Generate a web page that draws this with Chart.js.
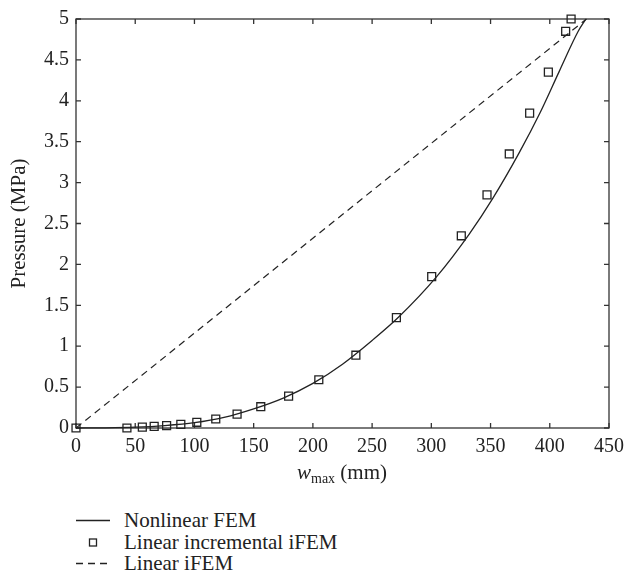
<!DOCTYPE html>
<html><head><meta charset="utf-8">
<script src="https://cdn.jsdelivr.net/npm/chart.js@4/dist/chart.umd.min.js"></script>
<style>
body{margin:0;background:#fff;width:638px;height:576px;overflow:hidden;font-family:"Liberation Serif",serif;color:#222;position:relative}
#wrap{position:absolute;left:0;top:0;width:638px;height:490px}
.xt{position:absolute;top:460px;left:0;width:684px;text-align:center;font-size:21px;line-height:24px}
.xt sub{font-size:14px;vertical-align:-4px;line-height:0}
.lg{position:absolute;left:76px;font-size:21px;line-height:22px;height:22px}
.lg svg{position:absolute;left:0;top:0}
.lg span{position:absolute;left:48px;top:0;white-space:nowrap}
</style></head>
<body>
<div id="wrap"><canvas id="c" width="638" height="490"></canvas></div>
<div class="xt"><i>w</i><sub>max</sub> (mm)</div>
<div class="lg" style="top:509px"><svg width="40" height="22"><line x1="0" y1="11.5" x2="34" y2="11.5" stroke="#222" stroke-width="1.3"/></svg><span>Nonlinear FEM</span></div>
<div class="lg" style="top:531px"><svg width="40" height="22"><rect x="13.5" y="8" width="7" height="7" fill="none" stroke="#222" stroke-width="1.3"/></svg><span>Linear incremental iFEM</span></div>
<div class="lg" style="top:552px"><svg width="40" height="22"><line x1="0" y1="11.5" x2="34" y2="11.5" stroke="#222" stroke-width="1.3" stroke-dasharray="7,5"/></svg><span>Linear iFEM</span></div>
<script>
// Nonlinear FEM
const femX = [0, 25, 50, 75, 100, 125, 150, 175, 200, 225, 250, 272, 304.5, 332, 352, 374, 392, 408, 424, 430.5];
const femY = [0, 0.002, 0.01, 0.03, 0.065, 0.13, 0.234, 0.366, 0.545, 0.78, 1.07, 1.35, 1.85, 2.37, 2.81, 3.36, 3.86, 4.36, 4.85, 5.0];
// Linear incremental iFEM
const incX = [0, 43, 56, 66, 76.5, 88.5, 102, 118, 136, 156, 179.5, 205, 236.3, 270.5, 300.3, 325.3, 347, 365.8, 383, 398.8, 413.4, 418];
const incY = [0, 0, 0.01, 0.02, 0.03, 0.045, 0.07, 0.11, 0.17, 0.26, 0.39, 0.59, 0.89, 1.35, 1.85, 2.35, 2.85, 3.35, 3.85, 4.35, 4.85, 5.0];
// Linear iFEM
const linX = [0, 431];
const linY = [0, 5];
const xTicks = [0, 50, 100, 150, 200, 250, 300, 350, 400, 450];
const yTicks = [0, 0.5, 1, 1.5, 2, 2.5, 3, 3.5, 4, 4.5, 5];

const pts = (xs, ys) => xs.map((v, i) => ({x: v, y: ys[i]}));
const INK = '#222';
const FONT = {family: '"Liberation Serif", serif', size: 20};

const frame = {
  id: 'frame',
  beforeDatasetsDraw(chart) {
    const {ctx, chartArea: a, scales: {x, y}} = chart;
    ctx.save();
    ctx.strokeStyle = '#333';
    ctx.lineWidth = 1.3;
    ctx.strokeRect(a.left, a.top, a.right - a.left, a.bottom - a.top);
    ctx.beginPath();
    xTicks.forEach(v => {
      const p = x.getPixelForValue(v);
      ctx.moveTo(p, a.bottom); ctx.lineTo(p, a.bottom - 5);
      ctx.moveTo(p, a.top); ctx.lineTo(p, a.top + 5);
    });
    yTicks.forEach(v => {
      const p = y.getPixelForValue(v);
      ctx.moveTo(a.left, p); ctx.lineTo(a.left + 5, p);
      ctx.moveTo(a.right, p); ctx.lineTo(a.right - 5, p);
    });
    ctx.stroke();
    ctx.restore();
  }
};

new Chart(document.getElementById('c'), {
  type: 'scatter',
  data: {
    datasets: [
      {label: 'Nonlinear FEM', data: pts(femX, femY), showLine: true, borderColor: INK, borderWidth: 1.3, pointRadius: 0, cubicInterpolationMode: 'monotone', clip: false},
      {label: 'Linear incremental iFEM', data: pts(incX, incY), showLine: false, pointStyle: 'rect', pointRadius: 5.6, borderColor: INK, borderWidth: 1.3, backgroundColor: 'rgba(0,0,0,0)', clip: false},
      {label: 'Linear iFEM', data: pts(linX, linY), showLine: true, borderColor: INK, borderWidth: 1.2, borderDash: [7, 5], pointRadius: 0, clip: false}
    ]
  },
  options: {
    responsive: false,
    animation: false,
    devicePixelRatio: 1,
    layout: {padding: {left: 0, top: 12, right: 29, bottom: 0}},
    plugins: {legend: {display: false}, tooltip: {enabled: false}},
    scales: {
      x: {
        type: 'linear', min: 0, max: 450,
        afterBuildTicks: s => { s.ticks = xTicks.map(v => ({value: v})); },
        afterFit: s => { s.height = 62; },
        grid: {display: false, drawTicks: false},
        border: {display: false},
        ticks: {font: FONT, color: INK, padding: 7, maxRotation: 0, callback: v => String(v)}
      },
      y: {
        type: 'linear', min: 0, max: 5,
        afterBuildTicks: s => { s.ticks = yTicks.map(v => ({value: v})); },
        afterFit: s => { s.width = 76; },
        grid: {display: false, drawTicks: false},
        border: {display: false},
        title: {display: true, text: 'Pressure (MPa)', font: {family: '"Liberation Serif", serif', size: 21}, color: INK, padding: {top: 7, bottom: 0}},
        ticks: {font: FONT, color: INK, padding: 7, callback: v => String(v)}
      }
    }
  },
  plugins: [frame]
});
</script>
</body></html>
